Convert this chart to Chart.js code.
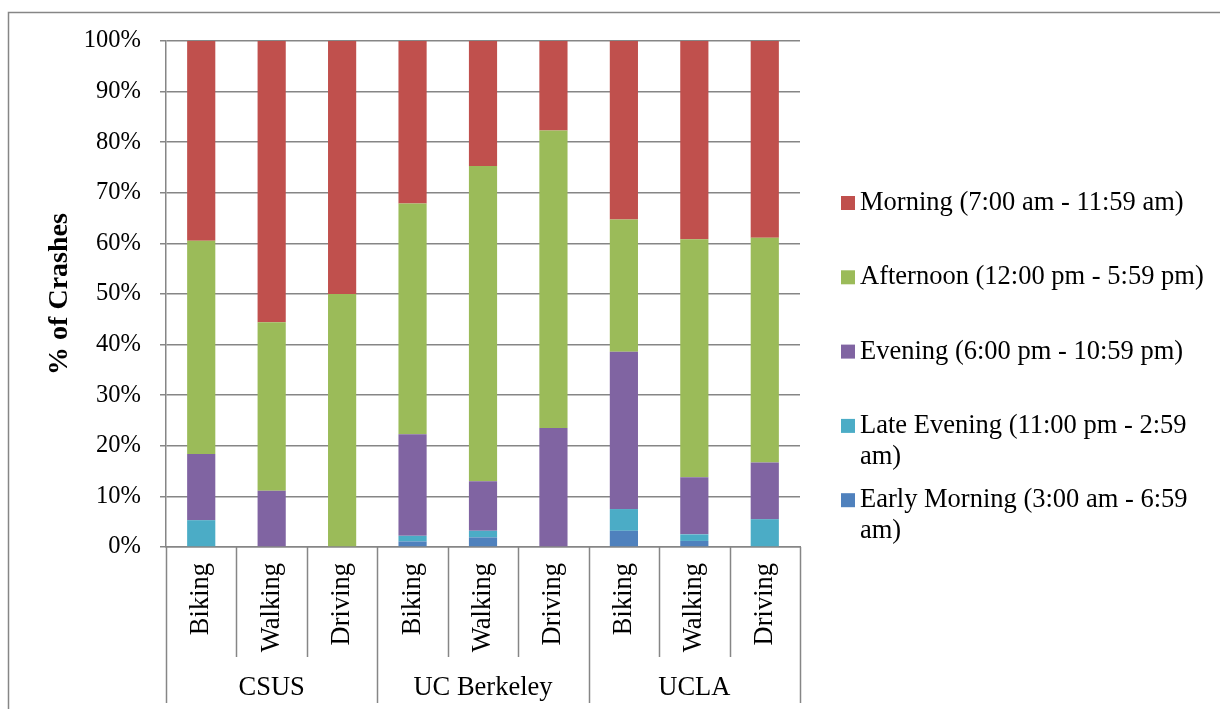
<!DOCTYPE html>
<html><head><meta charset="utf-8">
<script src="https://cdn.jsdelivr.net/npm/chart.js@4"></script>
<style>html,body{margin:0;padding:0;background:#fff}#wrap{width:1220px;height:709px;position:relative}</style>
</head><body><div id="wrap"><canvas id="c" width="1220" height="709"></canvas></div>
<script>
const modes = ['Biking','Walking','Driving','Biking','Walking','Driving','Biking','Walking','Driving'];
const groups = ['CSUS','UC Berkeley','UCLA'];
const groupSize = 3;
const earlyMorning = [0, 0, 0, 1.1, 1.9, 0, 3.2, 1.2, 0];
const lateEvening  = [5.3, 0, 0, 1.1, 1.3, 0, 4.3, 1.3, 5.5];
const evening      = [13.1, 11.1, 0, 20.1, 9.8, 23.5, 31.1, 11.3, 11.2];
const afternoon    = [42.1, 33.3, 50, 45.6, 62.3, 58.8, 26.1, 47.0, 44.4];
const morning      = [39.5, 55.6, 50, 32.1, 24.7, 17.7, 35.3, 39.2, 38.9];
const seriesNames = ['Early Morning (3:00 am - 6:59 am)','Late Evening (11:00 pm - 2:59 am)','Evening (6:00 pm - 10:59 pm)','Afternoon (12:00 pm - 5:59 pm)','Morning (7:00 am - 11:59 am)'];
const seriesColors = ['#4F81BD','#4BACC6','#8064A2','#9BBB59','#C0504D'];
const yTicks = [0,10,20,30,40,50,60,70,80,90,100];

const FONT = "'Liberation Serif','Times New Roman',serif";
const seriesData = [earlyMorning, lateEvening, evening, afternoon, morning];

const decor = {
  id: 'decor',
  beforeDraw(chart) {
    const ctx = chart.ctx;
    ctx.save();
    ctx.fillStyle = '#fff';
    ctx.fillRect(0, 0, chart.width, chart.height);
    ctx.strokeStyle = '#868686';
    ctx.lineWidth = 1.5;
    ctx.beginPath();
    ctx.moveTo(8.5, chart.height + 2);
    ctx.lineTo(8.5, 12.5);
    ctx.lineTo(chart.width + 2, 12.5);
    ctx.stroke();
    ctx.restore();
  },
  afterDraw(chart) {
    const ctx = chart.ctx;
    const x = chart.scales.x;
    const area = chart.chartArea;
    const n = modes.length;
    const step = (x.getPixelForValue(1) - x.getPixelForValue(0));
    ctx.save();
    ctx.strokeStyle = '#868686';
    ctx.lineWidth = 1.5;
    for (let i = 0; i <= n; i++) {
      const px = Math.round(x.getPixelForValue(0) - step / 2 + i * step) + 0.5;
      const isGroup = i % groupSize === 0;
      ctx.beginPath();
      ctx.moveTo(px, area.bottom);
      ctx.lineTo(px, isGroup ? 703 : 657);
      ctx.stroke();
    }
    ctx.fillStyle = '#000';
    ctx.font = '26.5px ' + FONT;
    ctx.textAlign = 'center';
    ctx.textBaseline = 'middle';
    groups.forEach((g, gi) => {
      const a = x.getPixelForValue(gi * groupSize);
      const b = x.getPixelForValue(gi * groupSize + groupSize - 1);
      ctx.fillText(g, (a + b) / 2, 688);
    });
    // legend
    ctx.textAlign = 'left';
    const maxW = 352;
    const ds = chart.data.datasets;
    let y = 203;
    for (let i = ds.length - 1; i >= 0; i--) {
      const d = ds[i];
      ctx.fillStyle = d.backgroundColor;
      ctx.fillRect(841, y - 7, 14, 14);
      ctx.fillStyle = '#000';
      const words = d.label.split(' ');
      const lines = [];
      let cur = '';
      words.forEach(w => {
        const t = cur ? cur + ' ' + w : w;
        if (ctx.measureText(t).width > maxW && cur) { lines.push(cur); cur = w; } else cur = t;
      });
      lines.push(cur);
      lines.forEach((l, li) => ctx.fillText(l, 860, y + li * 31));
      y += 74.3;
    }
    ctx.restore();
  }
};

new Chart(document.getElementById('c'), {
  type: 'bar',
  data: {
    labels: modes,
    datasets: seriesData.map((d, i) => ({
      label: seriesNames[i],
      data: d,
      backgroundColor: seriesColors[i],
      borderWidth: 0,
      categoryPercentage: 1,
      barPercentage: 0.4
    }))
  },
  options: {
    responsive: false,
    animation: false,
    devicePixelRatio: 1,
    layout: { padding: { left: 0, top: 41, right: 420, bottom: 0 } },
    plugins: { legend: { display: false }, tooltip: { enabled: false } },
    scales: {
      x: {
        stacked: true,
        grid: { display: false, drawTicks: false },
        border: { display: true, color: '#868686', width: 1.5 },
        ticks: { autoSkip: false, minRotation: 90, maxRotation: 90, padding: 16, color: '#000', font: { family: FONT, size: 26.5 } },
        afterFit(s) { s.height = 162; }
      },
      y: {
        stacked: true,
        min: 0, max: 100,
        afterBuildTicks(s) { s.ticks = yTicks.map(v => ({ value: v })); },
        grid: { color: '#868686', lineWidth: 1.5, tickLength: 6 },
        border: { display: true, color: '#868686', width: 1.5 },
        ticks: { padding: 19, color: '#000', font: { family: FONT, size: 24.5 }, callback: v => v + '%' },
        title: { display: true, text: '% of Crashes', color: '#000', font: { family: FONT, size: 28, weight: 'bold' }, padding: { top: 43, bottom: 0 } },
        afterFit(s) { s.width = 166; }
      }
    }
  },
  plugins: [decor]
});
</script></body></html>
